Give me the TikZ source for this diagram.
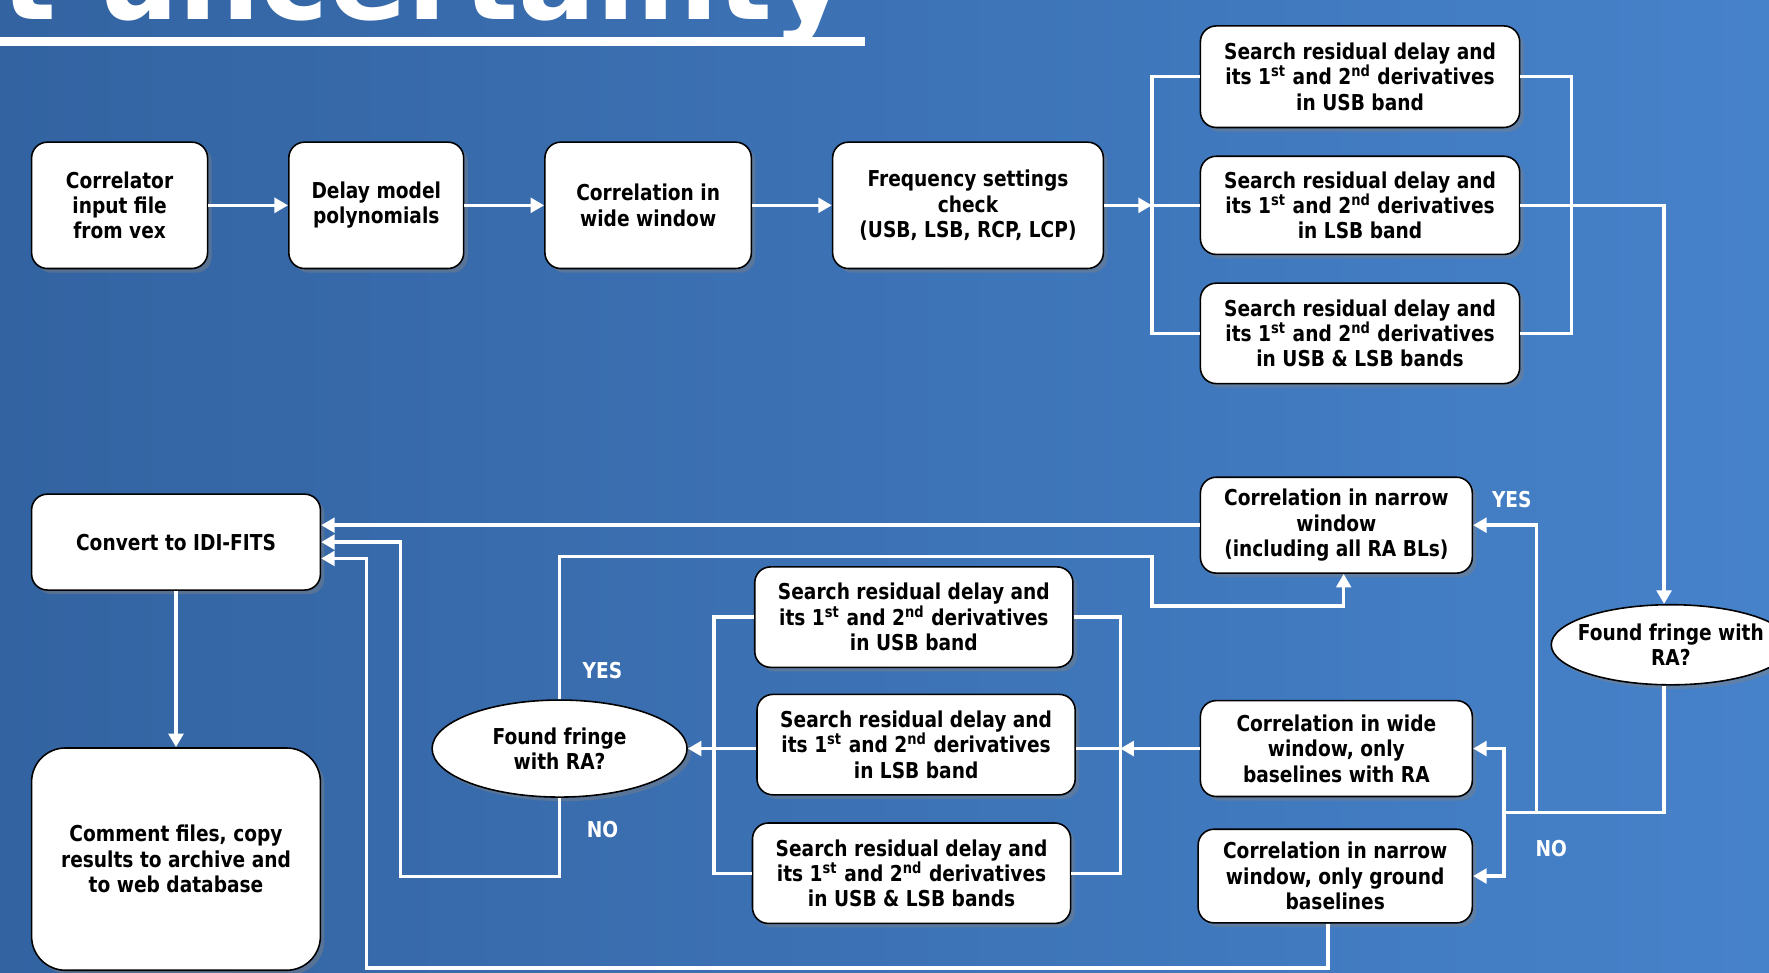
\documentclass[tikz,border=0pt]{standalone}
\usepackage{fontspec}
\setmainfont{DejaVu Sans}
\newfontfamily\boxfont{DejaVu Sans}[FakeStretch=0.85]
\newfontfamily\titlefont{DejaVu Sans}
\usetikzlibrary{shapes.geometric,arrows.meta,shadows,calc}
\definecolor{bgA}{HTML}{3363A1}
\definecolor{bgB}{HTML}{4682CA}
\begin{document}
\begin{tikzpicture}[x=0.5pt,y=-0.5pt,
  bx/.style={draw=black, line width=0.7pt, fill=white, rounded corners=7pt, align=center,
    font=\boxfont\bfseries\fontsize{9.7}{11.25}\selectfont, inner sep=0pt,
    drop shadow={shadow xshift=1.8pt, shadow yshift=-1.8pt, opacity=0.45}},
  el/.style={ellipse, draw=black, line width=0.7pt, fill=white, align=center,
    font=\boxfont\bfseries\fontsize{9.7}{11.25}\selectfont, inner sep=-12pt,
    drop shadow={shadow xshift=1.8pt, shadow yshift=-1.8pt, opacity=0.45}},
  lbl/.style={text=white, font=\boxfont\bfseries\fontsize{9.7}{11.25}\selectfont, inner sep=0pt},
  ln/.style={draw=white, line width=1.5pt},
  arr/.style={ln, -{Triangle[length=6pt,width=6.5pt]}}]
\useasboundingbox (0,0) rectangle (1568,862);
\clip (0,0) rectangle (1568,862);
\shade[left color=bgA, right color=bgB] (0,0) rectangle (1568,862);
% title fragment
\node[anchor=base east, text=white, inner sep=0pt, font=\titlefont\bfseries\fontsize{51}{60}\selectfont] (title) at (752,17) {t uncertainty};
\fill[white] (0,33) rectangle (767,41);
% top row
\node[bx, minimum width=78pt, minimum height=56pt] (c1) at (106,182) {Correlator\\input file\\from vex};
\node[bx, minimum width=77.5pt, minimum height=56pt] (c2) at (333.5,182) {Delay model\\polynomials};
\node[bx, minimum width=91.5pt, minimum height=56pt] (c3) at (574.5,182) {Correlation in\\wide window};
\node[bx, minimum width=120pt, minimum height=56pt] (c4) at (858,182) {Frequency settings\\check\\(USB, LSB, RCP, LCP)};
% right search column
\node[bx, minimum width=141.5pt, minimum height=45pt] (s1) at (1205.5,68) {Search residual delay and\\its 1\textsuperscript{st} and 2\textsuperscript{nd} derivatives\\in USB band};
\node[bx, minimum width=141.5pt, minimum height=43.5pt] (s2) at (1205.5,182) {Search residual delay and\\its 1\textsuperscript{st} and 2\textsuperscript{nd} derivatives\\in LSB band};
\node[bx, minimum width=141.5pt, minimum height=44.5pt] (s3) at (1205.5,295.5) {Search residual delay and\\its 1\textsuperscript{st} and 2\textsuperscript{nd} derivatives\\in USB \& LSB bands};
% decision right
\node[el, minimum width=106pt, minimum height=35.5pt] (e1) at (1481,571.5) {Found fringe with\\RA?};
% right lower boxes
\node[bx, minimum width=120.5pt, minimum height=42.5pt] (n1) at (1184.5,465.5) {Correlation in narrow\\window\\(including all RA BLs)};
\node[bx, minimum width=120.5pt, minimum height=42.5pt] (w1) at (1184.5,663.5) {Correlation in wide\\window, only\\baselines with RA};
\node[bx, minimum width=121.5pt, minimum height=41.5pt] (g1) at (1183.5,776.5) {Correlation in narrow\\window, only ground\\baselines};
% middle search column
\node[bx, minimum width=141pt, minimum height=44.5pt] (m1) at (810,547) {Search residual delay and\\its 1\textsuperscript{st} and 2\textsuperscript{nd} derivatives\\in USB band};
\node[bx, minimum width=141pt, minimum height=44.5pt] (m2) at (812,660) {Search residual delay and\\its 1\textsuperscript{st} and 2\textsuperscript{nd} derivatives\\in LSB band};
\node[bx, minimum width=141pt, minimum height=44.5pt] (m3) at (808,774) {Search residual delay and\\its 1\textsuperscript{st} and 2\textsuperscript{nd} derivatives\\in USB \& LSB bands};
% decision left
\node[el, minimum width=113pt, minimum height=43pt] (e2) at (496,663.5) {Found fringe\\with RA?};
% left column
\node[bx, minimum width=128pt, minimum height=42.5pt] (cv) at (156,480.5) {Convert to IDI-FITS};
\node[bx, rounded corners=15pt, minimum width=128pt, minimum height=98.5pt] (cm) at (156,761.5) {Comment files, copy\\results to archive and\\to web database};
% labels
\node[lbl] (yes1) at (1340,443) {YES};
\node[lbl] (no1) at (1375,752) {NO};
\node[lbl] (yes2) at (534,594) {YES};
\node[lbl] (no2) at (534,735) {NO};
% coordinates
\coordinate (bL) at (1021,182);
\coordinate (bL1) at (1021,68);
\coordinate (bL3) at (1021,295.5);
\coordinate (bR) at (1393,182);
\coordinate (eT) at (1475,182);
\coordinate (jY) at (1362,720);
\coordinate (jB) at (1333,720);
\coordinate (jE) at (1475,720);
\coordinate (yA) at (1021,493);
\coordinate (yC) at (1191,537);
\coordinate (nA) at (355,777);
\coordinate (gB) at (1177,858);
\coordinate (gC) at (325,858);
\coordinate (mR) at (993,660);
\coordinate (mL) at (633,660);
% top row connectors
\draw[arr] (c1) -- (c2);
\draw[arr] (c2) -- (c3);
\draw[arr] (c3) -- (c4);
\draw[arr] (c4) -- (bL);
\draw[ln] (bL) -- (s2.west);
\draw[ln] (s1.west) -- (bL1) -- (bL3) -- (s3.west);
\draw[ln] (s1.east) -| (bR) |- (s3.east);
\draw[arr] (s2.east) -- (eT) -- (e1.north -| eT);
% decision right
\draw[ln] (e1.south -| jE) -- (jE) -- (jB);
\draw[arr] (jY) |- (n1.east);
\draw[arr] (jB) |- (w1.east);
\draw[arr] (jB) |- (g1.east);
% to convert
\draw[arr] (n1.west) -- (n1.west -| cv.east);
\draw[arr] (e2.south) |- (nA) |- (cv.east);
\draw[arr] (g1.south -| gB) -- (gB) -- (gC) |- ($(cv.east)+(0,14.5)$);
\draw[arr] (e2.north) |- (yA) |- (yC) -- (n1.south -| yC);
% middle bracket
\draw[ln] (m1.east) -| (mR) |- (m3.east);
\draw[ln] (m2.east |- w1.west) -- (w1.west -| mR);
\draw[arr] (w1.west) -- (w1.west -| mR);
\draw[ln] (m1.west) -| (mL) |- (m3.west);
\draw[arr] (m2.west |- e2.east) -- (e2.east);
\draw[arr] (cv.south) -- (cm.north);
\end{tikzpicture}
\end{document}
